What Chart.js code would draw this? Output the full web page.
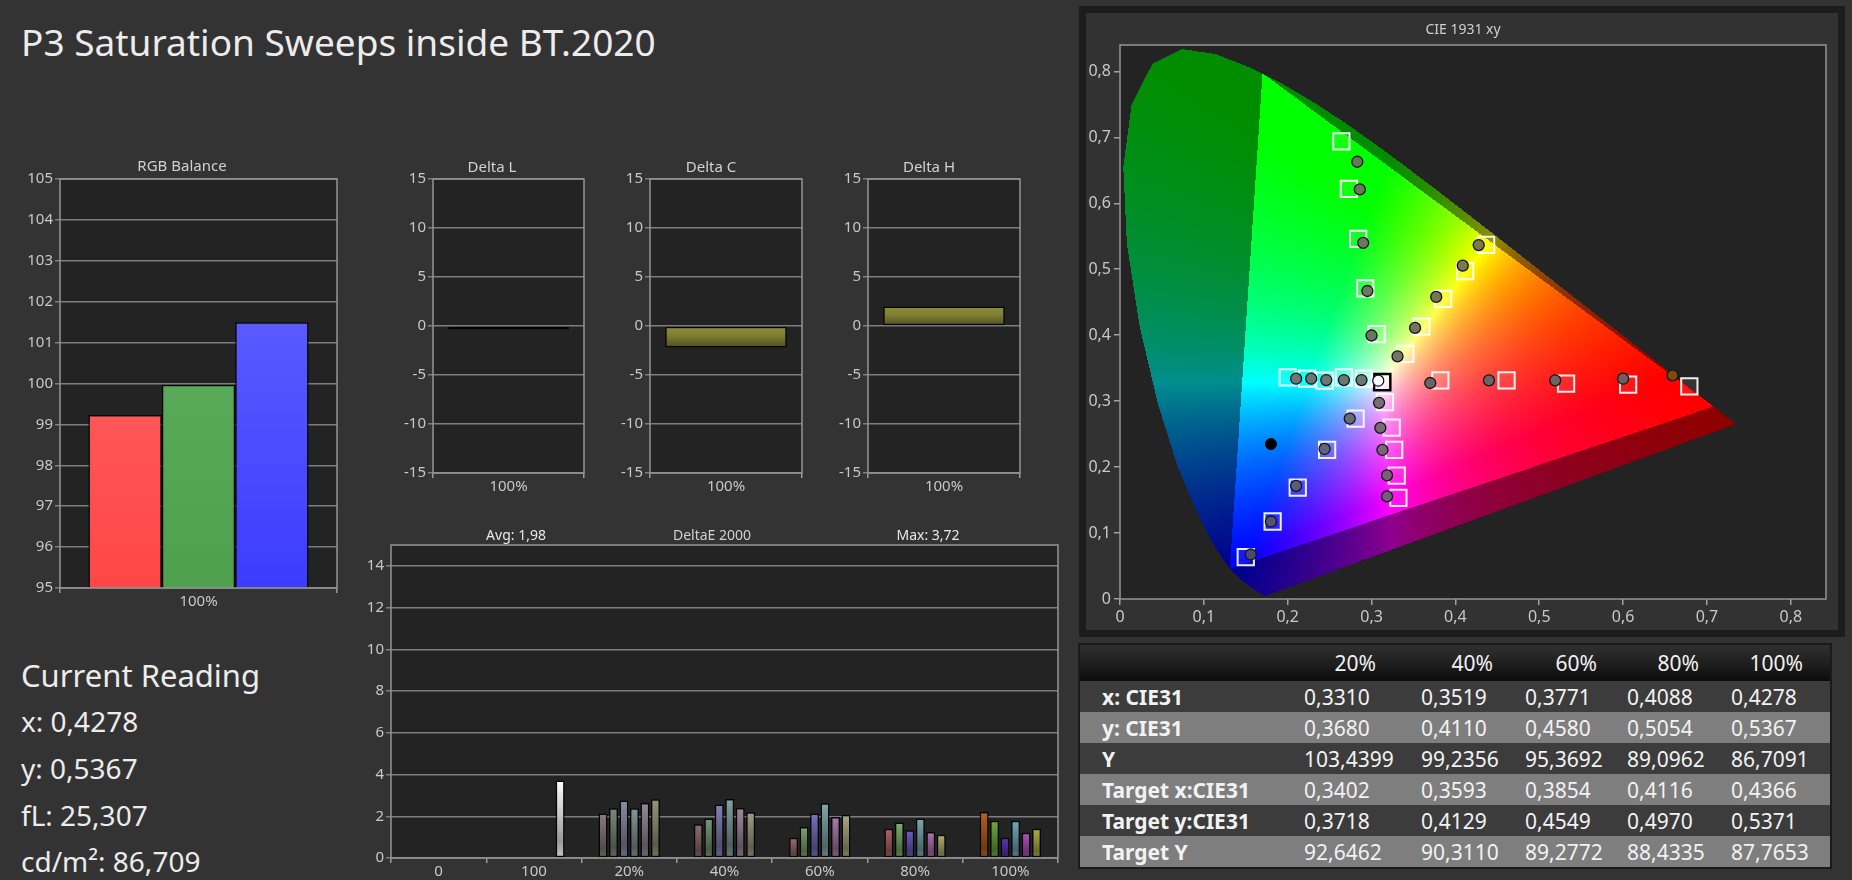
<!DOCTYPE html>
<html>
<head>
<meta charset="utf-8">
<script src="https://cdn.jsdelivr.net/npm/chart.js@4.4.1/dist/chart.umd.min.js"></script>
<style>
  html, body { margin: 0; padding: 0; background: #333333; overflow: hidden; }
  body { width: 1852px; height: 880px; position: relative; font-family: 'Noto Sans', sans-serif; color: #e6e6e6; }
  canvas { position: absolute; }
  .txt { position: absolute; white-space: nowrap; line-height: 1; }
  .ctr { position: absolute; white-space: nowrap; line-height: 1; transform: translate(-50%, -50%); font-size: 14px; color: #d0d0d0; }
  #cieFrame { position: absolute; left: 1079px; top: 6px; width: 752px; height: 617px; border: 7px solid #1c1c1c; background: #323232; }
  #tbl { position: absolute; left: 1080px; top: 645px; width: 750px; border-collapse: collapse; table-layout: fixed; font-size: 21px; color: #f2f2f2; outline: 2px solid #1a1a1a; }
  #tbl td { padding: 0 0 0 4px; height: 31px; white-space: nowrap; overflow: hidden; }
  #tbl td.lab { padding-left: 22px; font-weight: bold; }
  #tbl tr.head td { height: 36px; background: linear-gradient(to bottom, #303030 0%, #1d1d1d 55%, #0b0b0b 100%); }
  #tbl tr.head span { display: inline-block; width: 72px; text-align: right; }
  #tbl tr.dark td { background: #3c3c3c; }
  #tbl tr.light td { background: #7e7e7e; }
</style>
</head>
<body>
<div id="cieFrame"></div>

<canvas id="rgb" width="342" height="450" style="left:0px;top:168px"></canvas>
<canvas id="dl" width="190" height="333" style="left:398px;top:168px"></canvas>
<canvas id="dc" width="191" height="333" style="left:615px;top:168px"></canvas>
<canvas id="dh" width="191" height="333" style="left:833px;top:168px"></canvas>
<canvas id="de" width="703" height="346" style="left:359px;top:534px"></canvas>
<canvas id="cie" width="760" height="603" style="left:1080px;top:31px"></canvas>

<div class="txt" style="left:21px;top:23px;font-size:37px;color:#ececec">P3 Saturation Sweeps inside BT.2020</div>
<div class="ctr" style="left:182px;top:165px;font-size:15px">RGB Balance</div>
<div class="ctr" style="left:492px;top:166px;font-size:15px">Delta L</div>
<div class="ctr" style="left:711px;top:166px;font-size:15px">Delta C</div>
<div class="ctr" style="left:929px;top:166px;font-size:15px">Delta H</div>
<div class="ctr" style="left:712px;top:535px;font-size:14px">DeltaE 2000</div>
<div class="ctr" id="avgTxt" style="left:516px;top:535px;font-size:14px;color:#e8e8e8"></div>
<div class="ctr" id="maxTxt" style="left:928px;top:535px;font-size:14px;color:#e8e8e8"></div>
<div class="ctr" style="left:1463px;top:29px;font-size:14px">CIE 1931 xy</div>

<div class="txt" style="left:21px;top:660px;font-size:31px;color:#ececec">Current Reading</div>
<div id="reading"></div>

<table id="tbl"></table>

<script>
// ---------- data ----------
const rgbCats = ['100%'];
const rgbRed = [99.23];
const rgbGreen = [99.97];
const rgbBlue = [101.50];

const deltaCats = ['100%'];
const deltaL = [-0.35];
const deltaC = [-2.2];
const deltaH = [2.0];

// DeltaE 2000 per step; grayscale 0 / 100 sit in the last slot
const deCats = ['0', '100', '20%', '40%', '60%', '80%', '100%'];
const deRed     = [null, null, 2.13, 1.62, 0.97, 1.40, 2.21];
const deGreen   = [null, null, 2.39, 1.89, 1.48, 1.70, 1.78];
const deBlue    = [null, null, 2.76, 2.56, 2.13, 1.33, 0.97];
const deCyan    = [null, null, 2.39, 2.83, 2.62, 1.89, 1.78];
const deMagenta = [null, null, 2.63, 2.40, 1.97, 1.25, 1.21];
const deYellow  = [0.04, 3.72, 2.82, 2.19, 2.06, 1.11, 1.40];
const deAvg = '1,98';
const deMax = '3,72';

// table: yellow sweep
const sweepLevels = ['20%', '40%', '60%', '80%', '100%'];
const measX   = [0.3310, 0.3519, 0.3771, 0.4088, 0.4278];
const measY   = [0.3680, 0.4110, 0.4580, 0.5054, 0.5367];
const measLum = [103.4399, 99.2356, 95.3692, 89.0962, 86.7091];
const targX   = [0.3402, 0.3593, 0.3854, 0.4116, 0.4366];
const targY   = [0.3718, 0.4129, 0.4549, 0.4970, 0.5371];
const targLum = [92.6462, 90.3110, 89.2772, 88.4335, 87.7653];

const reading = ['x: 0,4278', 'y: 0,5367', 'fL: 25,307', 'cd/m²: 86,709'];

// other sweeps, 20% .. 100%, [x, y]
const redTarget     = [[0.382, 0.3315], [0.461, 0.3315], [0.532, 0.3265], [0.606, 0.325], [0.679, 0.3225]];
const redMeas       = [[0.370, 0.3275], [0.440, 0.3315], [0.519, 0.3315], [0.600, 0.334], [0.659, 0.339]];
const greenTarget   = [[0.306, 0.4015], [0.2925, 0.471], [0.284, 0.546], [0.273, 0.622], [0.264, 0.694]];
const greenMeas     = [[0.300, 0.3995], [0.295, 0.467], [0.290, 0.540], [0.286, 0.621], [0.283, 0.663]];
const blueTarget    = [[0.281, 0.2735], [0.247, 0.226], [0.212, 0.169], [0.182, 0.1175], [0.150, 0.0635]];
const blueMeas      = [[0.274, 0.2735], [0.244, 0.2275], [0.210, 0.1715], [0.180, 0.1175], [0.156, 0.0675]];
const cyanTarget    = [[0.291, 0.334], [0.267, 0.336], [0.244, 0.331], [0.223, 0.334], [0.200, 0.336]];
const cyanMeas      = [[0.288, 0.332], [0.267, 0.332], [0.246, 0.332], [0.228, 0.334], [0.210, 0.334]];
const magentaTarget = [[0.316, 0.2985], [0.324, 0.260], [0.327, 0.226], [0.330, 0.187], [0.332, 0.1535]];
const magentaMeas   = [[0.309, 0.2975], [0.3105, 0.2595], [0.313, 0.226], [0.3185, 0.1875], [0.3185, 0.1555]];
const whiteTarget = [0.3127, 0.329];
const whiteMeas = [0.308, 0.331];
const blackMeas = [0.180, 0.235];

const bt2020 = [[0.708, 0.292], [0.170, 0.797], [0.131, 0.046]];
const spectralLocus = [
  [0.1741,0.0050],[0.1740,0.0050],[0.1738,0.0049],[0.1736,0.0049],[0.1733,0.0048],[0.1730,0.0048],
  [0.1726,0.0048],[0.1721,0.0048],[0.1714,0.0051],[0.1703,0.0058],[0.1689,0.0069],[0.1669,0.0086],
  [0.1644,0.0109],[0.1611,0.0138],[0.1566,0.0177],[0.1510,0.0227],[0.1440,0.0297],[0.1355,0.0399],
  [0.1241,0.0578],[0.1096,0.0868],[0.0913,0.1327],[0.0687,0.2007],[0.0454,0.2950],[0.0235,0.4127],
  [0.0082,0.5384],[0.0039,0.6548],[0.0139,0.7502],[0.0389,0.8120],[0.0743,0.8338],[0.1142,0.8262],
  [0.1547,0.8059],[0.1929,0.7816],[0.2296,0.7543],[0.2658,0.7243],[0.3016,0.6923],[0.3373,0.6589],
  [0.3731,0.6245],[0.4087,0.5896],[0.4441,0.5547],[0.4788,0.5202],[0.5125,0.4866],[0.5448,0.4544],
  [0.5752,0.4242],[0.6029,0.3965],[0.6270,0.3725],[0.6482,0.3514],[0.6658,0.3340],[0.6801,0.3197],
  [0.6915,0.3083],[0.7006,0.2993],[0.7079,0.2920],[0.7140,0.2859],[0.7190,0.2809],[0.7230,0.2770],
  [0.7260,0.2740],[0.7283,0.2717],[0.7300,0.2700],[0.7311,0.2689],[0.7320,0.2680],[0.7334,0.2666],
  [0.7347,0.2653]
];

// ---------- styles ----------
const deColors = {
  red:     ['#808080', '#808080', '#8c7c7c', '#8e6e6e', '#9c6c6c', '#ae6464', '#b8621a'],
  green:   ['#808080', '#808080', '#7c8a7c', '#789878', '#7aa46c', '#7cb066', '#6ea83c'],
  blue:    ['#808080', '#808080', '#8c8ca6', '#8282b6', '#7272c0', '#6a5cc0', '#5a36b8'],
  cyan:    ['#808080', '#808080', '#869696', '#84a0a0', '#80a8ac', '#7aa8b2', '#72a8b8'],
  magenta: ['#808080', '#808080', '#968a96', '#a088a0', '#aa7aaa', '#b072b0', '#b052bc'],
  yellow:  ['#2a2a2a', '#ffffff', '#96967e', '#9e9e82', '#a8a882', '#b0b070', '#b0b042']
};
const measColors = {
  red: ['#6e6262', '#6e6464', '#6e6262', '#6e6060', '#7a4a12'],
  green: ['#6c7464', '#6c7660', '#6a785c', '#6a785a', '#687856'],
  blue: ['#6a6a76', '#646478', '#5c5c7a', '#54547a', '#4a4a70'],
  cyan: ['#6e7676', '#6c7676', '#6a7878', '#687878', '#667a7a'],
  magenta: ['#747074', '#766a76', '#786678', '#786078', '#7a5a7a'],
  yellow: ['#727266', '#74745e', '#767658', '#787854', '#7a7850']
};
const TICK = '#c8c8c8';
const GRID = '#7e7e7e';

Chart.defaults.font.family = "'Noto Sans', sans-serif";
Chart.defaults.color = TICK;
Chart.defaults.animation = false;
Chart.defaults.plugins.legend.display = false;
Chart.defaults.plugins.tooltip.enabled = false;

const framePlugin = {
  id: 'frame',
  beforeDraw(chart) {
    const { ctx, chartArea: a } = chart;
    ctx.save();
    ctx.fillStyle = '#232323';
    ctx.fillRect(a.left, a.top, a.right - a.left, a.bottom - a.top);
    ctx.restore();
  },
  afterDraw(chart) {
    const { ctx, chartArea: a } = chart;
    ctx.save();
    ctx.strokeStyle = '#959595';
    ctx.lineWidth = 1.5;
    ctx.strokeRect(a.left, a.top, a.right - a.left, a.bottom - a.top);
    ctx.restore();
  }
};
Chart.register(framePlugin);

function rgbOf(hex) {
  const n = parseInt(hex.slice(1), 16);
  return [n >> 16 & 255, n >> 8 & 255, n & 255];
}
function shade(hex, f) {
  const c = rgbOf(hex).map(v => Math.min(255, Math.round(v * f)));
  return `rgb(${c[0]},${c[1]},${c[2]})`;
}
// vertical gradient over the bar itself
function barFill(c, stops) {
  const chart = c.chart;
  if (!chart.chartArea || c.type !== 'data' || c.raw == null) return stops[0][1];
  const ys = chart.scales.y;
  const p1 = ys.getPixelForValue(c.raw), p0 = ys.getBasePixel();
  const top = Math.min(p0, p1), bot = Math.max(p0, p1);
  if (bot - top < 1) return stops[0][1];
  const g = chart.ctx.createLinearGradient(0, top, 0, bot);
  stops.forEach(([o, col]) => g.addColorStop(o, col));
  return g;
}

function yAxis(min, max, step, width, size) {
  return {
    min, max,
    ticks: { stepSize: step, includeBounds: false, font: { size: size || 15 }, color: TICK, padding: 2 },
    grid: { color: GRID, lineWidth: 1.5, tickLength: 5 },
    border: { display: false },
    afterFit(s) { s.width = width; }
  };
}
function catAxis(height) {
  return {
    type: 'category', offset: true,
    grid: { offset: true, drawOnChartArea: false, tickLength: 5, color: '#9a9a9a', lineWidth: 1.5 },
    border: { display: false },
    ticks: { font: { size: 15 }, color: TICK, padding: 0 },
    afterFit(s) { s.height = height; }
  };
}

// ---------- RGB balance ----------
new Chart(document.getElementById('rgb'), {
  type: 'bar',
  data: {
    labels: rgbCats,
    datasets: [
      { data: rgbRed, backgroundColor: c => barFill(c, [[0, '#ff5656'], [1, '#ff4646']]) },
      { data: rgbGreen, backgroundColor: c => barFill(c, [[0, '#58aa58'], [1, '#4ea04e']]) },
      { data: rgbBlue, backgroundColor: c => barFill(c, [[0, '#5a5aff'], [1, '#3c3cff']]) }
    ]
  },
  options: {
    responsive: false,
    layout: { padding: { top: 9, right: 5, left: 0, bottom: 0 } },
    datasets: { bar: { categoryPercentage: 0.795, barPercentage: 1, borderColor: '#050505', borderWidth: 1.5, borderSkipped: false } },
    scales: { x: catAxis(30), y: yAxis(95, 105, 1, 60) }
  }
});

// ---------- Delta L / C / H ----------
const olive = [[0, '#8e8e3e'], [0.45, '#7e7e32'], [1, '#4e4e1e']];
function deltaChart(id, values) {
  new Chart(document.getElementById(id), {
    type: 'bar',
    data: { labels: deltaCats, datasets: [{ data: values, backgroundColor: c => barFill(c, olive) }] },
    options: {
      responsive: false,
      layout: { padding: { top: 9, right: 4, left: 0, bottom: 0 } },
      datasets: { bar: { categoryPercentage: 0.8, barPercentage: 1, borderColor: '#050505', borderWidth: 1.5, borderSkipped: false } },
      scales: { x: catAxis(28), y: yAxis(-15, 15, 5, 35) }
    }
  });
}
deltaChart('dl', deltaL);
deltaChart('dc', deltaC);
deltaChart('dh', deltaH);

// ---------- DeltaE 2000 ----------
function deSet(values, colors) {
  return {
    data: values,
    backgroundColor: c => {
      const base = colors[c.dataIndex];
      return barFill(c, [[0, shade(base, 1)], [0.78, shade(base, 0.6)], [1, shade(base, 0.78)]]);
    }
  };
}
new Chart(document.getElementById('de'), {
  type: 'bar',
  data: {
    labels: deCats,
    datasets: [
      deSet(deRed, deColors.red), deSet(deGreen, deColors.green), deSet(deBlue, deColors.blue),
      deSet(deCyan, deColors.cyan), deSet(deMagenta, deColors.magenta), deSet(deYellow, deColors.yellow)
    ]
  },
  options: {
    responsive: false,
    layout: { padding: { top: 9, right: 4, left: 0, bottom: 0 } },
    datasets: { bar: { categoryPercentage: 0.66, barPercentage: 0.86, borderColor: '#050505', borderWidth: 1.5, borderSkipped: false } },
    scales: { x: catAxis(22), y: yAxis(0, 15, 2, 32) }
  }
});
document.getElementById('avgTxt').textContent = 'Avg: ' + deAvg;
document.getElementById('maxTxt').textContent = 'Max: ' + deMax;

// ---------- CIE 1931 xy ----------
function insideTri(px, py, t) {
  const s = (a, b) => (b[0] - a[0]) * (py - a[1]) - (b[1] - a[1]) * (px - a[0]);
  const d1 = s(t[0], t[1]), d2 = s(t[1], t[2]), d3 = s(t[2], t[0]);
  return (d1 >= 0 && d2 >= 0 && d3 >= 0) || (d1 <= 0 && d2 <= 0 && d3 <= 0);
}
function xyToRgb(x, y) {
  const X = x / y, Z = (1 - x - y) / y;
  const r = Math.max(0, 3.2406 * X - 1.5372 - 0.4986 * Z);
  const g = Math.max(0, -0.9689 * X + 1.8758 + 0.0415 * Z);
  const b = Math.max(0, 0.0557 * X - 0.2040 + 1.0570 * Z);
  const m = Math.max(r, g, b) || 1;
  return [r / m, g / m, b / m];
}
const cieBackground = {
  id: 'cieBackground',
  beforeDatasetsDraw(chart) {
    const { ctx, chartArea: a, scales } = chart;
    const w = Math.round(a.right - a.left), h = Math.round(a.bottom - a.top);
    if (!chart.$gamut) {
      const off = document.createElement('canvas');
      off.width = w; off.height = h;
      const octx = off.getContext('2d');
      const img = octx.createImageData(w, h);
      const poly = spectralLocus, n = poly.length;
      for (let j = 0; j < h; j++) {
        const yv = scales.y.getValueForPixel(a.top + j + 0.5);
        const xs = [];
        for (let k = 0; k < n; k++) {
          const p = poly[k], q = poly[(k + 1) % n];
          if ((p[1] <= yv) !== (q[1] <= yv)) xs.push(p[0] + (yv - p[1]) / (q[1] - p[1]) * (q[0] - p[0]));
        }
        xs.sort((u, v) => u - v);
        for (let i = 0; i < w; i++) {
          const xv = scales.x.getValueForPixel(a.left + i + 0.5);
          let inside = false;
          for (let k = 0; k + 1 < xs.length; k += 2) if (xv >= xs[k] && xv <= xs[k + 1]) inside = true;
          if (!inside) continue;
          const c = xyToRgb(xv, yv);
          const f = insideTri(xv, yv, bt2020) ? 255 : 142;
          const o = (j * w + i) * 4;
          img.data[o] = c[0] * f; img.data[o + 1] = c[1] * f; img.data[o + 2] = c[2] * f; img.data[o + 3] = 255;
        }
      }
      octx.putImageData(img, 0, 0);
      chart.$gamut = off;
    }
    ctx.drawImage(chart.$gamut, a.left, a.top, w, h);
  }
};

const pts = arr => arr.map(([x, y]) => ({ x, y }));
const yellowTarget = targX.map((x, i) => [x, targY[i]]);
const yellowMeas = measX.map((x, i) => [x, measY[i]]);
const sweeps = [
  [redTarget, redMeas, 'red'], [greenTarget, greenMeas, 'green'], [blueTarget, blueMeas, 'blue'],
  [cyanTarget, cyanMeas, 'cyan'], [magentaTarget, magentaMeas, 'magenta'], [yellowTarget, yellowMeas, 'yellow']
];
const allTargets = [], allMeas = [], measFill = [];
sweeps.forEach(([t, m, name]) => {
  allTargets.push(...pts(t));
  allMeas.push(...pts(m));
  measFill.push(...measColors[name]);
});
const fmtXY = v => v === 0 ? '0' : v.toFixed(1).replace('.', ',');
const cieAxis = (max, extra) => Object.assign({
  type: 'linear', min: 0, max,
  ticks: { stepSize: 0.1, includeBounds: false, font: { size: 16 }, color: TICK, padding: 3, callback: fmtXY },
  grid: { drawOnChartArea: false, tickLength: 6, color: '#a0a0a0', lineWidth: 1.5 },
  border: { display: false }
}, extra);

new Chart(document.getElementById('cie'), {
  type: 'scatter',
  data: {
    datasets: [
      { data: allMeas, order: 1, pointStyle: 'circle', pointRadius: 5.5, backgroundColor: measFill, borderColor: '#151515', borderWidth: 1.3 },
      { data: pts([whiteMeas]), order: 1, pointStyle: 'circle', pointRadius: 5.5, backgroundColor: '#ffffff', borderColor: '#151515', borderWidth: 1.3 },
      { data: pts([blackMeas]), order: 1, pointStyle: 'circle', pointRadius: 5.5, backgroundColor: '#000000', borderColor: '#000000', borderWidth: 1 },
      { data: allTargets, order: 2, pointStyle: 'rect', pointRadius: 11.5, backgroundColor: 'rgba(255,255,255,0.08)', borderColor: 'rgba(255,255,255,0.92)', borderWidth: 2 },
      { data: pts([whiteTarget]), order: 2, pointStyle: 'rect', pointRadius: 11.5, backgroundColor: 'rgba(255,255,255,0.3)', borderColor: '#000000', borderWidth: 2.5 }
    ]
  },
  options: {
    responsive: false,
    layout: { padding: { top: 9, right: 4, left: 0, bottom: 0 } },
    scales: {
      x: cieAxis(0.842, { afterFit(s) { s.height = 35; } }),
      y: cieAxis(0.84, { afterFit(s) { s.width = 40; } })
    }
  },
  plugins: [cieBackground]
});

// ---------- text panels ----------
const readingBox = document.getElementById('reading');
const readBase = [732, 779, 826, 872];
reading.forEach((t, i) => {
  const d = document.createElement('div');
  d.className = 'txt';
  d.style.cssText = `left:21px;top:${readBase[i] - 25}px;font-size:28px;color:#ececec`;
  d.textContent = t;
  readingBox.appendChild(d);
});

const f4 = v => v.toFixed(4).replace('.', ',');
const tableRows = [
  ['x: CIE31', measX], ['y: CIE31', measY], ['Y', measLum],
  ['Target x:CIE31', targX], ['Target y:CIE31', targY], ['Target Y', targLum]
];
const colW = [220, 117, 104, 102, 104, 103];
let html = '<colgroup>' + colW.map(w => `<col style="width:${w}px">`).join('') + '</colgroup>';
html += '<tr class="head"><td></td>' + sweepLevels.map(l => `<td><span>${l}</span></td>`).join('') + '</tr>';
tableRows.forEach(([lab, vals], i) => {
  html += `<tr class="${i % 2 ? 'light' : 'dark'}"><td class="lab">${lab}</td>` + vals.map(v => `<td>${f4(v)}</td>`).join('') + '</tr>';
});
document.getElementById('tbl').innerHTML = html;
</script>
</body>
</html>
